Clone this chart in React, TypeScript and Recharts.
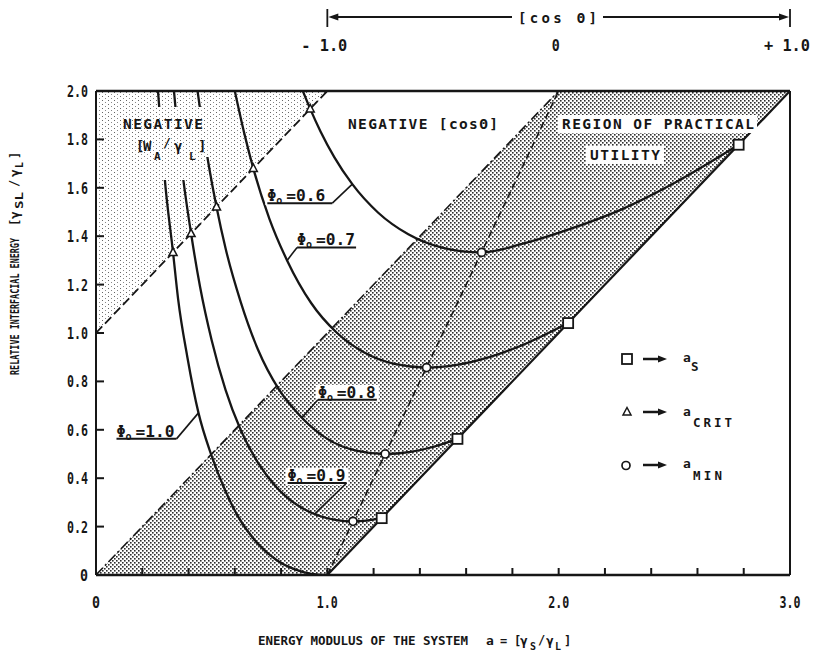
import React from 'react';
import {
  ComposedChart,
  Line,
  Area,
  Scatter,
  XAxis,
  YAxis,
  ReferenceLine,
  ReferenceDot,
} from 'recharts';

const WIDTH = 814;
const HEIGHT = 663;
const MARGIN = { top: 51, right: 24, bottom: 58, left: 56 };
const Y_AXIS_WIDTH = 40;
const TOP_AXIS_HEIGHT = 40;
const BOTTOM_AXIS_HEIGHT = 30;
const PLOT_LEFT = MARGIN.left + Y_AXIS_WIDTH;
const PLOT_RIGHT = WIDTH - MARGIN.right;
const A_MAX = 3;
// horizontal position of a value of a, used for the cosθ bracket above the frame
const aToPx = (a: number) => PLOT_LEFT + (a / A_MAX) * (PLOT_RIGHT - PLOT_LEFT);

const INK = '#161616';
const MONO = '"DejaVu Sans Mono", "Liberation Mono", monospace';

type Pt = { a: number; y: number };
const toPoints = (rows: number[][]): Pt[] => rows.map(([a, y]) => ({ a, y }));

// ---- axis ticks -------------------------------------------------------
const xTickValues = [0, 0.2, 0.4, 0.6, 0.8, 1.0, 1.2, 1.4, 1.6, 1.8, 2.0, 2.2, 2.4, 2.6, 2.8, 3.0];
const xLabelValues = [0, 1, 2, 3];
const xLabelTexts = ['0', '1.0', '2.0', '3.0'];
const yTickValues = [0, 0.2, 0.4, 0.6, 0.8, 1.0, 1.2, 1.4, 1.6, 1.8, 2.0];
const yTickTexts = ['0', '0.2', '0.4', '0.6', '0.8', '1.0', '1.2', '1.4', '1.6', '1.8', '2.0'];
// cosθ scale along the top edge (γSL/γL = 2): cosθ = -1, 0, +1 at a = 1, 2, 3
const cosTickValues = [1, 2, 3];
const cosTickTexts = ['- 1.0', '0', '+ 1.0'];

// ---- shaded regions: [lower, upper] γSL/γL at each a ----------------------
const utilityBand = [
  { a: 0, band: [0, 0] },
  { a: 1, band: [0, 1] },
  { a: 2, band: [1, 2] },
  { a: 3, band: [2, 2] },
];
const negativeWorkBand = [
  { a: 0, band: [1, 2] },
  { a: 1, band: [2, 2] },
];

// ---- boundary lines --------------------------------------------------------
const cosMinusOneLine = toPoints([[0, 1], [1, 2]]);
const cosZeroLine = toPoints([[0, 0], [2, 2]]);
const criticalLine = toPoints([[1, 0], [2, 2]]);
const cosOneLine = toPoints([[1, 0], [3, 2]]);

// ---- constant-Φo curves ------------------------------------------------------
const phi10 = toPoints([
  [0.268, 2.0], [0.28, 1.85], [0.297, 1.64], [0.333, 1.333], [0.355, 1.14], [0.395, 0.9],
  [0.443, 0.67], [0.497, 0.5], [0.56, 0.346], [0.615, 0.24], [0.7, 0.129], [0.78, 0.062],
  [0.86, 0.023], [0.93, 0.005], [1.0, 0],
]);
const phi09 = toPoints([
  [0.337, 2.0], [0.358, 1.79], [0.378, 1.63], [0.411, 1.411], [0.45, 1.19], [0.5, 0.97],
  [0.56, 0.765], [0.625, 0.6], [0.7, 0.464], [0.78, 0.363], [0.87, 0.289], [0.96, 0.246],
  [1.04, 0.227], [1.111, 0.222], [1.17, 0.225], [1.235, 0.235],
]);
const phi08 = toPoints([
  [0.439, 2.0], [0.46, 1.857], [0.49, 1.679], [0.521, 1.521], [0.56, 1.35], [0.625, 1.13],
  [0.7, 0.932], [0.79, 0.768], [0.89, 0.65], [1.0, 0.5625], [1.12, 0.515], [1.25, 0.5],
  [1.36, 0.509], [1.46, 0.53], [1.5625, 0.5625],
]);
const phi07 = toPoints([
  [0.6, 2.0], [0.64, 1.829], [0.68, 1.68], [0.75, 1.471], [0.826, 1.3], [0.93, 1.124],
  [1.04, 1.002], [1.16, 0.919], [1.29, 0.872], [1.429, 0.857], [1.56, 0.868], [1.7, 0.9],
  [1.87, 0.961], [2.041, 1.041],
]);
const phi06 = toPoints([
  [0.894, 2.0], [0.926, 1.926], [0.97, 1.834], [1.03, 1.727], [1.108, 1.615], [1.22, 1.497],
  [1.35, 1.408], [1.5, 1.352], [1.667, 1.333], [1.85, 1.37], [2.05, 1.43], [2.27, 1.51],
  [2.5, 1.62], [2.778, 1.778],
]);
const phiCurves = [phi10, phi09, phi08, phi07, phi06];

// ---- characteristic points ----------------------------------------------------
const aSpreading = toPoints([[1.235, 0.235], [1.5625, 0.5625], [2.041, 1.041], [2.778, 1.778]]);
const aCritical = toPoints([[0.333, 1.333], [0.411, 1.411], [0.521, 1.521], [0.68, 1.68], [0.926, 1.926]]);
const aMinimum = toPoints([[1.111, 0.222], [1.25, 0.5], [1.429, 0.857], [1.667, 1.333]]);

// ---- Φo call-outs: value and the curve point the leader touches ----------------
const phiNotes = [
  { phi: '0.6', a: 1.108, y: 1.615 },
  { phi: '0.7', a: 0.826, y: 1.3 },
  { phi: '0.8', a: 0.89, y: 0.65 },
  { phi: '0.9', a: 0.945, y: 0.252 },
  { phi: '1.0', a: 0.443, y: 0.67 },
];
// underline extent (px from the touch point) and which end the leader leaves from
const phiNoteLayout = [
  { x1: -85, x2: -20, dy: 19, from: 'right' },
  { x1: 10, x2: 69, dy: -13, from: 'left' },
  { x1: 16, x2: 75, dy: -18, from: 'left' },
  { x1: -27, x2: 32, dy: -31, from: 'right' },
  { x1: -82, x2: -22, dy: 26, from: 'right' },
];

const findIndex = (list: number[], v: number) => list.findIndex((t) => Math.abs(t - v) < 1e-6);

// ---- tick renderers (ticks drawn inward) ------------------------------------
const LeftTick = (p: any) => {
  const v = p.payload.value;
  const i = findIndex(yTickValues, v);
  const label = yTickTexts[i] ?? '';
  const axisX = p.x + 8;
  const inner = v > 0.01 && v < 1.99;
  return (
    <g>
      <text
        x={p.x}
        y={p.y + 6}
        textAnchor="end"
        fontFamily={MONO}
        fontWeight={700}
        fontSize={16}
        fill={INK}
        textLength={label.length > 1 ? 21 : 8}
        lengthAdjust="spacingAndGlyphs"
      >
        {label}
      </text>
      {inner && <line x1={axisX} x2={axisX + 8} y1={p.y} y2={p.y} stroke={INK} strokeWidth={2} />}
    </g>
  );
};

const BottomTick = (p: any) => {
  const v = p.payload.value;
  const li = findIndex(xLabelValues, v);
  const axisY = p.y - 33;
  const inner = v > 0.01 && v < 2.99;
  return (
    <g>
      {li >= 0 && (
        <text
          x={p.x}
          y={p.y}
          textAnchor="middle"
          fontFamily={MONO}
          fontWeight={700}
          fontSize={16}
          fill={INK}
          textLength={xLabelTexts[li].length > 1 ? 21 : 8}
          lengthAdjust="spacingAndGlyphs"
        >
          {xLabelTexts[li]}
        </text>
      )}
      {inner && <line x1={p.x} x2={p.x} y1={axisY} y2={axisY - 7} stroke={INK} strokeWidth={2} />}
    </g>
  );
};

const CosTick = (p: any) => {
  const i = findIndex(cosTickValues, p.payload.value);
  const label = cosTickTexts[i] ?? '';
  return (
    <text
      x={p.x - 3}
      y={p.y}
      textAnchor="middle"
      fontFamily={MONO}
      fontWeight={700}
      fontSize={16}
      fill={INK}
      textLength={label.length > 1 ? 46 : 8}
      lengthAdjust="spacingAndGlyphs"
    >
      {label}
    </text>
  );
};

// ---- point markers -----------------------------------------------------------------
const SquareMark = (p: any) => (
  <rect x={p.cx - 5} y={p.cy - 5} width={10} height={10} fill="#fff" stroke={INK} strokeWidth={1.8} />
);
const CircleMark = (p: any) => (
  <circle cx={p.cx} cy={p.cy} r={4} fill="#fff" stroke={INK} strokeWidth={1.7} />
);
const TriangleMark = (p: any) => (
  <path
    d={`M${p.cx},${p.cy - 4.5}L${p.cx + 4},${p.cy + 3}L${p.cx - 4},${p.cy + 3}Z`}
    fill="#fff"
    stroke={INK}
    strokeWidth={1.5}
  />
);

// ---- Φo call-out -----------------------------------------------------------------------
const makePhiNote = (phi: string, layout: { x1: number; x2: number; dy: number; from: string }) =>
  (p: any) => {
    const { cx, cy } = p;
    const ux1 = cx + layout.x1;
    const ux2 = cx + layout.x2;
    const uy = cy + layout.dy;
    const lx = layout.from === 'right' ? ux2 : ux1;
    return (
      <g>
        <rect x={ux1 - 2} y={uy - 15} width={ux2 - ux1 + 4} height={17} fill="#fff" />
        <text x={ux1} y={uy - 2} fontFamily={MONO} fontWeight={700} fontSize={15} fill={INK}>
          Φ
        </text>
        <text x={ux1 + 9} y={uy + 1} fontFamily={MONO} fontWeight={700} fontSize={10} fill={INK}>
          o
        </text>
        <text
          x={ux1 + 19}
          y={uy - 2}
          fontFamily={MONO}
          fontWeight={700}
          fontSize={16}
          fill={INK}
          textLength={39}
          lengthAdjust="spacingAndGlyphs"
        >
          {'=' + phi}
        </text>
        <line x1={ux1} x2={ux2} y1={uy} y2={uy} stroke={INK} strokeWidth={2} />
        <line x1={lx} y1={uy} x2={cx} y2={cy} stroke={INK} strokeWidth={1.6} />
      </g>
    );
  };

// ---- text helper for the overlay --------------------------------------------------------
const T = (props: any) => (
  <text fontFamily={MONO} fontWeight={700} fill={INK} {...props} />
);

const LegendArrow = ({ y }: { y: number }) => (
  <g>
    <line x1={643} x2={659} y1={y} y2={y} stroke={INK} strokeWidth={2.5} />
    <path d={`M667,${y}L658,${y - 3.5}L658,${y + 3.5}Z`} fill={INK} />
  </g>
);

const Overlay = () => {
  const cosLeft = aToPx(1);
  const cosRight = aToPx(3);
  return (
    <svg
      width={WIDTH}
      height={HEIGHT}
      style={{ position: 'absolute', left: 0, top: 0, pointerEvents: 'none' }}
    >
      {/* cosθ bracket above the frame */}
      <line x1={cosLeft} x2={cosLeft} y1={9} y2={27} stroke={INK} strokeWidth={1.8} />
      <line x1={cosRight} x2={cosRight} y1={9} y2={27} stroke={INK} strokeWidth={1.8} />
      <line x1={cosLeft + 6} x2={512} y1={17} y2={17} stroke={INK} strokeWidth={1.8} />
      <line x1={603} x2={cosRight - 6} y1={17} y2={17} stroke={INK} strokeWidth={1.8} />
      <path d={`M${cosLeft + 1},17L${cosLeft + 11},13.5L${cosLeft + 11},20.5Z`} fill={INK} />
      <path d={`M${cosRight - 1},17L${cosRight - 11},13.5L${cosRight - 11},20.5Z`} fill={INK} />
      <T x={518} y={23} fontSize={14} textLength={79} lengthAdjust="spacing">
        [cos Θ]
      </T>

      {/* region labels */}
      <rect x={118} y={107} width={94} height={50} fill="#fff" />
      <rect x={118} y={157} width={74} height={23} fill="#fff" />
      <rect x={118} y={107} width={94} height={50} fill="url(#dotsSparse)" />
      <rect x={118} y={157} width={74} height={23} fill="url(#dotsSparse)" />
      <T x={123} y={129} fontSize={14.5} textLength={80} lengthAdjust="spacing">
        NEGATIVE
      </T>
      <T x={136} y={151} fontSize={14}>[</T>
      <T x={143} y={151} fontSize={14}>W</T>
      <T x={154} y={160} fontSize={11}>A</T>
      <T x={163} y={147} fontSize={13}>/</T>
      <T x={174} y={151} fontSize={14}>γ</T>
      <T x={189} y={160} fontSize={11}>L</T>
      <T x={198} y={151} fontSize={14}>]</T>

      <T x={348} y={129} fontSize={14.5} textLength={150} lengthAdjust="spacing">
        NEGATIVE [cosΘ]
      </T>

      <rect x={558} y={115} width={199} height={18} fill="#fff" />
      <T x={562} y={129} fontSize={14.5} textLength={192} lengthAdjust="spacing">
        REGION OF PRACTICAL
      </T>
      <rect x={586} y={146} width={78} height={18} fill="#fff" />
      <T x={590} y={160} fontSize={14.5} textLength={70} lengthAdjust="spacing">
        UTILITY
      </T>

      {/* key */}
      <rect x={622} y={354} width={10} height={10} fill="#fff" stroke={INK} strokeWidth={1.8} />
      <LegendArrow y={359} />
      <T x={683} y={362} fontSize={13}>a</T>
      <T x={691} y={371} fontSize={12.5}>S</T>

      <path d="M627,407.5L631,415L623,415Z" fill="#fff" stroke={INK} strokeWidth={1.5} />
      <LegendArrow y={412} />
      <T x={683} y={416} fontSize={13}>a</T>
      <T x={693} y={427} fontSize={12.5} textLength={39} lengthAdjust="spacing">
        CRIT
      </T>

      <circle cx={626} cy={465.5} r={4} fill="#fff" stroke={INK} strokeWidth={1.7} />
      <LegendArrow y={465} />
      <T x={683} y={468} fontSize={13}>a</T>
      <T x={693} y={480} fontSize={12.5} textLength={29} lengthAdjust="spacing">
        MIN
      </T>

      {/* axis titles */}
      <T x={258} y={645} fontSize={12.5} textLength={210} lengthAdjust="spacing">
        ENERGY MODULUS OF THE SYSTEM
      </T>
      <T x={486} y={645} fontSize={13}>a</T>
      <T x={500} y={645} fontSize={12}>=</T>
      <T x={514} y={645} fontSize={12}>[</T>
      <T x={520} y={645} fontSize={13}>γ</T>
      <T x={530} y={650} fontSize={10}>S</T>
      <T x={538} y={644} fontSize={12}>/</T>
      <T x={546} y={645} fontSize={13}>γ</T>
      <T x={555} y={650} fontSize={10}>L</T>
      <T x={564} y={645} fontSize={12}>]</T>

      <g transform="translate(19,375) rotate(-90)">
        <T x={0} y={0} fontSize={13} textLength={137} lengthAdjust="spacingAndGlyphs">
          RELATIVE INTERFACIAL ENERGY
        </T>
        <T x={149} y={0} fontSize={12}>[</T>
        <T x={156} y={0} fontSize={13}>γ</T>
        <T x={166} y={4} fontSize={10} textLength={17} lengthAdjust="spacingAndGlyphs">SL</T>
        <T x={188} y={-1} fontSize={12}>/</T>
        <T x={198} y={0} fontSize={13}>γ</T>
        <T x={207} y={4} fontSize={10}>L</T>
        <T x={216} y={0} fontSize={12}>]</T>
      </g>
    </svg>
  );
};

const Patterns = () => (
  <svg width={0} height={0} style={{ position: 'absolute', left: 0, top: 0 }}>
    <defs>
      <pattern id="dotsDense" width={4} height={4} patternUnits="userSpaceOnUse">
        <rect x={0} y={0} width={1.6} height={1.6} fill="#2e2e2e" />
        <rect x={2} y={2} width={1.6} height={1.6} fill="#2e2e2e" />
      </pattern>
      <pattern id="dotsSparse" width={6} height={4} patternUnits="userSpaceOnUse">
        <rect x={0} y={0} width={1} height={1} fill="#666" />
        <rect x={3} y={2} width={1} height={1} fill="#888" />
      </pattern>
    </defs>
  </svg>
);

export default function App() {
  return (
    <div style={{ position: 'absolute', left: 0, top: 0, width: WIDTH, height: HEIGHT, background: '#fff' }}>
      <Patterns />
      <ComposedChart width={WIDTH} height={HEIGHT} margin={MARGIN}>
        <XAxis
          dataKey="a"
          type="number"
          domain={[0, A_MAX]}
          allowDataOverflow
          ticks={xTickValues}
          interval={0}
          tick={BottomTick}
          tickLine={false}
          tickSize={0}
          tickMargin={33}
          height={BOTTOM_AXIS_HEIGHT}
          axisLine={{ stroke: INK, strokeWidth: 2.5 }}
        />
        <XAxis
          xAxisId="cos"
          orientation="top"
          dataKey="a"
          type="number"
          domain={[0, A_MAX]}
          allowDataOverflow
          ticks={cosTickValues}
          interval={0}
          tick={CosTick}
          tickLine={false}
          tickSize={0}
          tickMargin={40}
          height={TOP_AXIS_HEIGHT}
          axisLine={false}
        />
        <YAxis
          type="number"
          domain={[0, 2]}
          allowDataOverflow
          ticks={yTickValues}
          interval={0}
          tick={LeftTick}
          tickLine={false}
          tickSize={0}
          tickMargin={8}
          width={Y_AXIS_WIDTH}
          axisLine={{ stroke: INK, strokeWidth: 2 }}
        />

        <Area
          data={negativeWorkBand}
          dataKey="band"
          type="linear"
          stroke="none"
          fill="url(#dotsSparse)"
          fillOpacity={1}
          dot={false}
          activeDot={false}
          isAnimationActive={false}
        />
        <Area
          data={utilityBand}
          dataKey="band"
          type="linear"
          stroke="none"
          fill="url(#dotsDense)"
          fillOpacity={1}
          dot={false}
          activeDot={false}
          isAnimationActive={false}
        />

        <ReferenceLine y={2} stroke={INK} strokeWidth={2.5} />
        <ReferenceLine x={A_MAX} stroke={INK} strokeWidth={2} />

        <Line data={cosMinusOneLine} dataKey="y" type="linear" stroke={INK} strokeWidth={1.8}
          strokeDasharray="9 4" dot={false} activeDot={false} isAnimationActive={false} />
        <Line data={cosZeroLine} dataKey="y" type="linear" stroke={INK} strokeWidth={1.6}
          strokeDasharray="10 3 2 3" dot={false} activeDot={false} isAnimationActive={false} />
        <Line data={criticalLine} dataKey="y" type="linear" stroke={INK} strokeWidth={1.6}
          strokeDasharray="7 4" dot={false} activeDot={false} isAnimationActive={false} />
        <Line data={cosOneLine} dataKey="y" type="linear" stroke={INK} strokeWidth={2.2}
          dot={false} activeDot={false} isAnimationActive={false} />

        {phiCurves.map((curve, i) => (
          <Line
            key={`phi-${i}`}
            data={curve}
            dataKey="y"
            type="monotoneX"
            stroke={INK}
            strokeWidth={2.3}
            dot={false}
            activeDot={false}
            isAnimationActive={false}
          />
        ))}

        <Scatter data={aCritical} dataKey="y" shape={TriangleMark} isAnimationActive={false} />
        <Scatter data={aMinimum} dataKey="y" shape={CircleMark} isAnimationActive={false} />
        <Scatter data={aSpreading} dataKey="y" shape={SquareMark} isAnimationActive={false} />

        {phiNotes.map((n, i) => (
          <ReferenceDot
            key={`note-${n.phi}`}
            x={n.a}
            y={n.y}
            r={0}
            ifOverflow="visible"
            shape={makePhiNote(n.phi, phiNoteLayout[i])}
          />
        ))}
      </ComposedChart>
      <Overlay />
    </div>
  );
}
